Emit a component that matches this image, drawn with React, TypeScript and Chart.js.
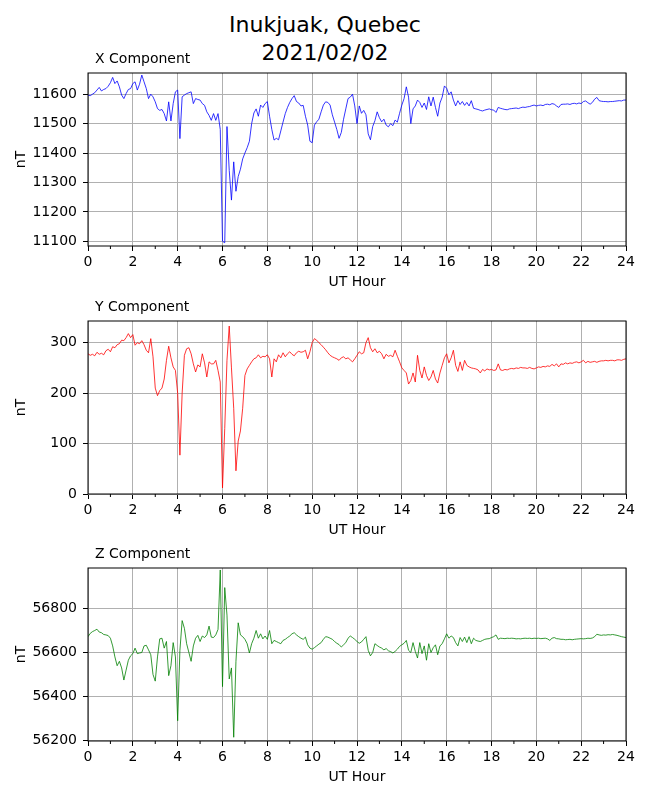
import { useEffect, useRef } from "react";
import Chart from "chart.js/auto";

// sample times, one every 6 minutes (0.1 h)
const HOURS = Array.from({ length: 241 }, (_, i) => i / 10);
const MINOR_HOURS = [1, 3, 5, 7, 9, 11, 13, 15, 17, 19, 21, 23];

const X_TICKS = [11100, 11200, 11300, 11400, 11500, 11600];
const Y_TICKS = [0, 100, 200, 300];
const Z_TICKS = [56200, 56400, 56600, 56800];

const X_COMPONENT = [
  11597, 11595, 11600, 11605, 11614, 11623, 11611, 11616, 11619, 11627,
  11639, 11657, 11636, 11645, 11625, 11597, 11585, 11602, 11616, 11619,
  11636, 11642, 11614, 11634, 11665, 11642, 11619, 11585, 11600, 11591,
  11574, 11551, 11545, 11548, 11534, 11509, 11574, 11509, 11568, 11608,
  11614, 11449, 11591, 11597, 11602, 11605, 11608, 11568, 11585, 11582,
  11580, 11568, 11562, 11540, 11528, 11511, 11534, 11511, 11534, 11480,
  11100, 11095, 11490, 11341, 11240, 11370, 11270, 11320, 11345, 11380,
  11400, 11418, 11440, 11500, 11536, 11550, 11525, 11563, 11555, 11568,
  11575, 11525, 11480, 11444, 11450, 11445, 11475, 11505, 11534, 11555,
  11572, 11585, 11595, 11575, 11570, 11560, 11562, 11525, 11495, 11440,
  11435, 11495, 11506, 11515, 11540, 11563, 11574, 11572, 11563, 11530,
  11505, 11480, 11450, 11470, 11515, 11550, 11585, 11590, 11600, 11560,
  11500, 11560, 11535, 11545, 11530, 11465, 11445, 11490, 11510, 11540,
  11520, 11506, 11515, 11495, 11489, 11500, 11493, 11512, 11505, 11535,
  11563, 11585, 11625, 11590, 11500, 11550, 11560, 11580, 11572, 11555,
  11570, 11548, 11591, 11560, 11590, 11555, 11525, 11570, 11590, 11628,
  11620, 11598, 11608, 11580, 11560, 11578, 11565, 11575, 11562, 11572,
  11560, 11578, 11552, 11550, 11548, 11545, 11543, 11546, 11548, 11550,
  11547, 11546, 11538, 11555, 11552, 11550, 11548, 11547, 11550, 11551,
  11552, 11553, 11551, 11554, 11556, 11555, 11557, 11558, 11561, 11563,
  11560, 11562, 11563, 11561, 11565, 11566, 11564, 11568, 11566, 11560,
  11555, 11565, 11566, 11566, 11567, 11565, 11568, 11569, 11567, 11570,
  11568, 11575, 11577, 11571, 11566, 11572, 11583, 11589, 11578, 11576,
  11575, 11575, 11574, 11575, 11575, 11576, 11577, 11578, 11577, 11580,
  11580,
];

const Y_COMPONENT = [
  278, 275, 277, 274, 281, 277, 279, 276, 284, 287,
  282, 292, 290, 296, 298, 305, 304, 310, 318, 310,
  316, 295, 300, 298, 304, 296, 285, 280, 308, 272,
  210, 195, 205, 210, 228, 265, 293, 270, 252, 245,
  200, 77, 200, 275, 288, 290, 278, 258, 242, 256,
  252, 278, 260, 232, 262, 258, 258, 265, 245, 222,
  12, 130, 265, 333, 250, 170, 46, 105, 125, 170,
  235, 248, 255, 262, 268, 270, 276, 270, 273, 272,
  276, 268, 232, 268, 262, 276, 270, 280, 272, 278,
  282, 277, 274, 280, 283, 281, 282, 285, 268, 282,
  300, 308, 305, 300, 296, 291, 286, 280, 275, 272,
  270, 268, 265, 270, 272, 268, 270, 266, 262, 268,
  275, 282, 278, 280, 300, 310, 290, 282, 288, 280,
  283, 278, 268, 277, 273, 275, 272, 285, 273, 262,
  250, 245, 240, 218, 225, 240, 222, 275, 245, 230,
  252, 235, 225, 232, 245, 228, 220, 240, 255, 270,
  278, 260, 270, 285, 255, 243, 262, 245, 265, 255,
  252, 250, 249, 248, 246, 240, 247, 244, 248, 246,
  247, 245, 246, 258, 246, 245, 247, 246, 248, 249,
  248, 250, 249, 251, 250, 250, 249, 251, 249, 248,
  250, 252, 251, 253, 252, 254, 253, 257, 254, 258,
  252, 258, 257, 260, 258, 260, 259, 261, 262, 260,
  262, 265, 260, 263, 261, 262, 263, 261, 263, 264,
  264, 265, 264, 265, 265, 264, 266, 266, 265, 267,
  268,
];

const Z_COMPONENT = [
  56672, 56687, 56695, 56700, 56706, 56693, 56690, 56682, 56680, 56677,
  56665, 56630, 56580, 56540, 56560, 56530, 56475, 56520, 56565, 56585,
  56595, 56620, 56595, 56598, 56600, 56630, 56633, 56612, 56590, 56500,
  56470, 56580, 56662, 56665, 56620, 56650, 56495, 56540, 56645, 56580,
  56290, 56610, 56745, 56710, 56640, 56600, 56560, 56630, 56665, 56678,
  56650, 56675, 56668, 56680, 56720, 56670, 56668, 56680, 56705, 56975,
  56445, 56895, 56770, 56480, 56530, 56215, 56560, 56735, 56680, 56672,
  56660, 56640, 56598, 56640, 56665, 56700, 56665, 56685, 56662, 56675,
  56660, 56700, 56640, 56655, 56650, 56645, 56640, 56655, 56660, 56668,
  56675, 56685, 56690, 56680, 56672, 56665, 56660, 56670, 56635, 56620,
  56615, 56622, 56630, 56638, 56645, 56660, 56672, 56670, 56665, 56660,
  56650, 56642, 56636, 56625, 56635, 56645, 56665, 56675, 56668, 56660,
  56650, 56642, 56648, 56660, 56672, 56610, 56585, 56600, 56640, 56632,
  56625, 56620, 56612, 56618, 56608, 56604, 56598, 56605, 56615, 56628,
  56635, 56642, 56655, 56610, 56600, 56645, 56605, 56575, 56645, 56595,
  56630, 56565, 56640, 56600, 56622, 56635, 56590, 56630, 56640, 56662,
  56685, 56665, 56675, 56668, 56645, 56630, 56668, 56650, 56670, 56645,
  56672, 56640, 56665, 56655, 56652, 56650, 56655, 56660, 56662, 56663,
  56668, 56672, 56680, 56660, 56665, 56664, 56663, 56665, 56664, 56665,
  56664, 56662, 56663, 56662, 56664, 56665, 56664, 56665, 56663, 56665,
  56664, 56665, 56663, 56664, 56665, 56662, 56655, 56665, 56668, 56663,
  56662, 56660, 56660, 56658, 56659, 56660, 56658, 56660, 56661, 56662,
  56663, 56662, 56663, 56665, 56664, 56666, 56672, 56683, 56680, 56678,
  56680, 56679, 56681, 56680, 56682, 56680, 56678, 56675, 56672, 56670,
  56668,
];

const FONT = "'DejaVu Sans', sans-serif";
const GRID = "#b0b0b0";

// frame, minor ticks and the small left-hand panel title
const framePlugin = {
  id: "frame",
  afterDraw(chart: any, _args: any, opts: any) {
    const { ctx, chartArea: a, scales } = chart;
    ctx.save();
    ctx.strokeStyle = "#000";
    ctx.lineWidth = 1;
    ctx.beginPath();
    for (const h of MINOR_HOURS) {
      const px = scales.x.getPixelForValue(h);
      ctx.moveTo(px, a.bottom);
      ctx.lineTo(px, a.bottom + 3);
    }
    ctx.stroke();
    ctx.strokeRect(a.left, a.top, a.right - a.left, a.bottom - a.top);
    ctx.fillStyle = "#000";
    ctx.font = "14px " + FONT;
    ctx.textBaseline = "alphabetic";
    ctx.textAlign = "left";
    ctx.fillText(opts.text, a.left + 7, a.top - 10);
    ctx.restore();
  },
};

type PanelProps = {
  title: string;
  values: number[];
  color: string;
  min: number;
  max: number;
  yTicks: number[];
  top: number;
};

function Panel({ title, values, color, min, max, yTicks, top }: PanelProps) {
  const canvasRef = useRef<HTMLCanvasElement>(null);
  const chartRef = useRef<Chart | null>(null);

  useEffect(() => {
    if (!canvasRef.current) return;
    if (chartRef.current) chartRef.current.destroy();

    chartRef.current = new Chart(canvasRef.current, {
      type: "line",
      data: {
        datasets: [
          {
            data: HOURS.map((h, i) => ({ x: h, y: values[i] })),
            borderColor: color,
            borderWidth: 0.8,
            pointRadius: 0,
            tension: 0,
          },
        ],
      },
      options: {
        responsive: false,
        animation: false,
        events: [],
        layout: { padding: { top: 30, right: 24, left: 0, bottom: 0 } },
        plugins: {
          legend: { display: false },
          tooltip: { enabled: false },
          frame: { text: title },
        } as any,
        scales: {
          x: {
            type: "linear",
            min: 0,
            max: 24,
            afterFit: (s: any) => {
              s.height = 45;
            },
            border: { display: false },
            grid: {
              color: (c: any) => (c.tick && c.tick.value % 2 === 0 ? GRID : "transparent"),
              tickColor: (c: any) => (c.tick && c.tick.value % 2 === 0 ? "#000" : "transparent"),
              tickLength: 5,
              lineWidth: 1,
            },
            ticks: {
              stepSize: 1,
              autoSkip: false,
              maxRotation: 0,
              padding: 3,
              color: "#000",
              font: { family: FONT, size: 14 },
              callback: (v: any) => (Number(v) % 2 === 0 ? String(v) : ""),
            },
            title: {
              display: true,
              text: "UT Hour",
              color: "#000",
              font: { family: FONT, size: 14 },
              padding: { top: 0, bottom: 0.6 },
            },
          },
          y: {
            min,
            max,
            afterFit: (s: any) => {
              s.width = 88;
            },
            afterBuildTicks: (s: any) => {
              s.ticks = yTicks.map((value) => ({ value }));
            },
            border: { display: false },
            grid: { color: GRID, tickColor: "#000", tickLength: 5, lineWidth: 1 },
            ticks: {
              padding: 6,
              color: "#000",
              font: { family: FONT, size: 14 },
              callback: (v: any) => String(v),
            },
            title: {
              display: true,
              text: "nT",
              color: "#000",
              font: { family: FONT, size: 14 },
              padding: { top: 12.6, bottom: 0 },
            },
          },
        },
      },
      plugins: [framePlugin],
    });

    return () => {
      if (chartRef.current) {
        chartRef.current.destroy();
        chartRef.current = null;
      }
    };
  }, [title, values, color, min, max, yTicks]);

  return (
    <div style={{ position: "absolute", left: 0, top, width: 650, height: 248 }}>
      <canvas ref={canvasRef} width={650} height={248}></canvas>
    </div>
  );
}

export default function App() {
  return (
    <div
      style={{
        position: "absolute",
        left: 0,
        top: 0,
        width: 650,
        height: 800,
        background: "#fff",
        fontFamily: FONT,
      }}
    >
      <div
        style={{
          position: "absolute",
          left: 0,
          top: 11,
          width: 650,
          textAlign: "center",
          fontSize: 22,
          lineHeight: "28px",
          color: "#000",
        }}
      >
        Inukjuak, Quebec
        <br />
        2021/02/02
      </div>
      <Panel title="X Component" values={X_COMPONENT} color="#0000ff" min={11084} max={11672} yTicks={X_TICKS} top={43} />
      <Panel title="Y Component" values={Y_COMPONENT} color="#ff0000" min={0} max={343} yTicks={Y_TICKS} top={291} />
      <Panel title="Z Component" values={Z_COMPONENT} color="#008000" min={56198} max={56984} yTicks={Z_TICKS} top={538} />
    </div>
  );
}
